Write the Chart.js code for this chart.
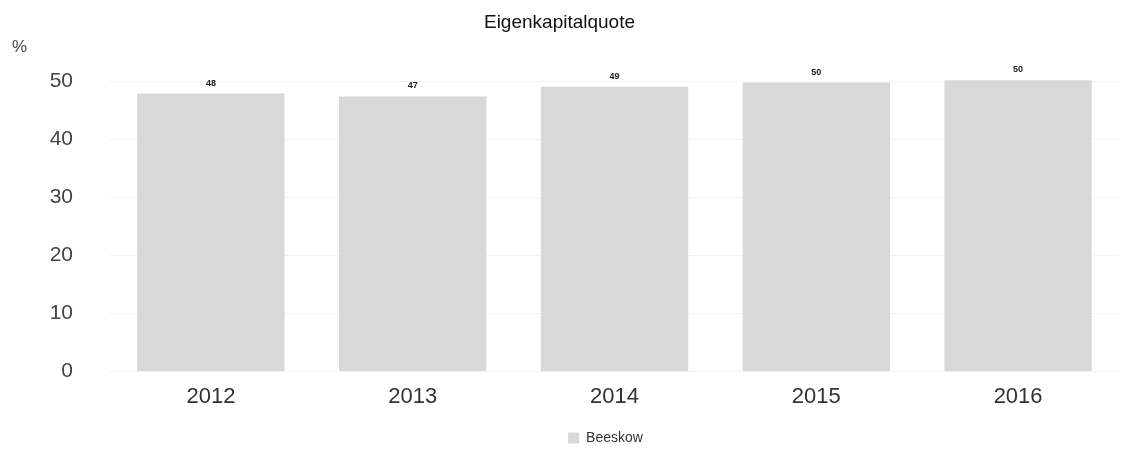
<!DOCTYPE html>
<html>
<head>
<meta charset="utf-8">
<script src="https://cdn.jsdelivr.net/npm/chart.js@4/dist/chart.umd.min.js"></script>
<style>
    html, body { margin: 0; padding: 0; background: #fff; }
    #wrap { width: 1141px; height: 454px; }
</style>
</head>
<body>
<div id="wrap"><canvas id="eigenkapitalChart"></canvas></div>
<script>
const years = ['2012', '2013', '2014', '2015', '2016'];
const quote = [47.9, 47.4, 49.1, 49.8, 50.2];
const yTicks = [0, 10, 20, 30, 40, 50];
const seriesName = 'Beeskow';

// labels over the bars, the "%" unit, legend nudged like the original
const barLabels = {
    id: 'barLabels',
    afterUpdate(chart) {
        const legend = chart.legend;
        if (legend) {
            legend.left += 46;
            legend.right += 46;
            legend.top += 7;
            legend.bottom += 7;
            legend.adjustHitBoxes();
        }
    },
    afterDatasetsDraw(chart) {
        const ctx = chart.ctx;
        const meta = chart.getDatasetMeta(0);
        ctx.save();
        ctx.font = 'bold 9px "Liberation Sans", Arial, sans-serif';
        ctx.fillStyle = '#222';
        ctx.textAlign = 'center';
        ctx.textBaseline = 'bottom';
        meta.data.forEach(function(bar, i) {
            ctx.fillText(Math.round(quote[i]), bar.x, bar.y - 6);
        });
        ctx.font = '17px "Liberation Sans", Arial, sans-serif';
        ctx.fillStyle = '#444';
        ctx.textAlign = 'left';
        ctx.textBaseline = 'middle';
        ctx.fillText('%', 12, 47);
        ctx.restore();
    }
};

const ctx = document.getElementById('eigenkapitalChart').getContext('2d');
new Chart(ctx, {
    type: 'bar',
    data: {
        labels: years,
        datasets: [{
            label: seriesName,
            data: quote,
            backgroundColor: '#d8d8d8',
            borderWidth: 0,
            categoryPercentage: 1,
            barPercentage: 0.73
        }]
    },
    options: {
        responsive: true,
        maintainAspectRatio: false,
        animation: false,
        layout: { padding: { left: 0, right: 22, top: 4, bottom: 6 } },
        scales: {
            x: {
                grid: { display: false },
                border: { display: false },
                ticks: {
                    color: '#333',
                    padding: 4,
                    font: { family: '"Liberation Sans", Arial, sans-serif', size: 22 }
                }
            },
            y: {
                min: 0,
                max: 52,
                afterBuildTicks: function(scale) {
                    scale.ticks = yTicks.map(function(v) { return { value: v }; });
                },
                afterFit: function(scale) { scale.width = 110; },
                grid: { color: '#f3f3f3', drawTicks: false },
                border: { display: false },
                ticks: {
                    color: '#444',
                    padding: 37,
                    font: { family: '"Liberation Sans", Arial, sans-serif', size: 21 }
                }
            }
        },
        plugins: {
            title: {
                display: true,
                text: 'Eigenkapitalquote',
                color: '#111',
                padding: { top: 7, bottom: 36 },
                font: { family: '"Liberation Sans", Arial, sans-serif', size: 19, weight: 'normal' }
            },
            legend: {
                position: 'bottom',
                labels: {
                    boxWidth: 11,
                    boxHeight: 11,
                    color: '#333',
                    padding: 10,
                    font: { family: '"Liberation Sans", Arial, sans-serif', size: 14 }
                }
            },
            tooltip: { enabled: false }
        }
    },
    plugins: [barLabels]
});
</script>
</body>
</html>
